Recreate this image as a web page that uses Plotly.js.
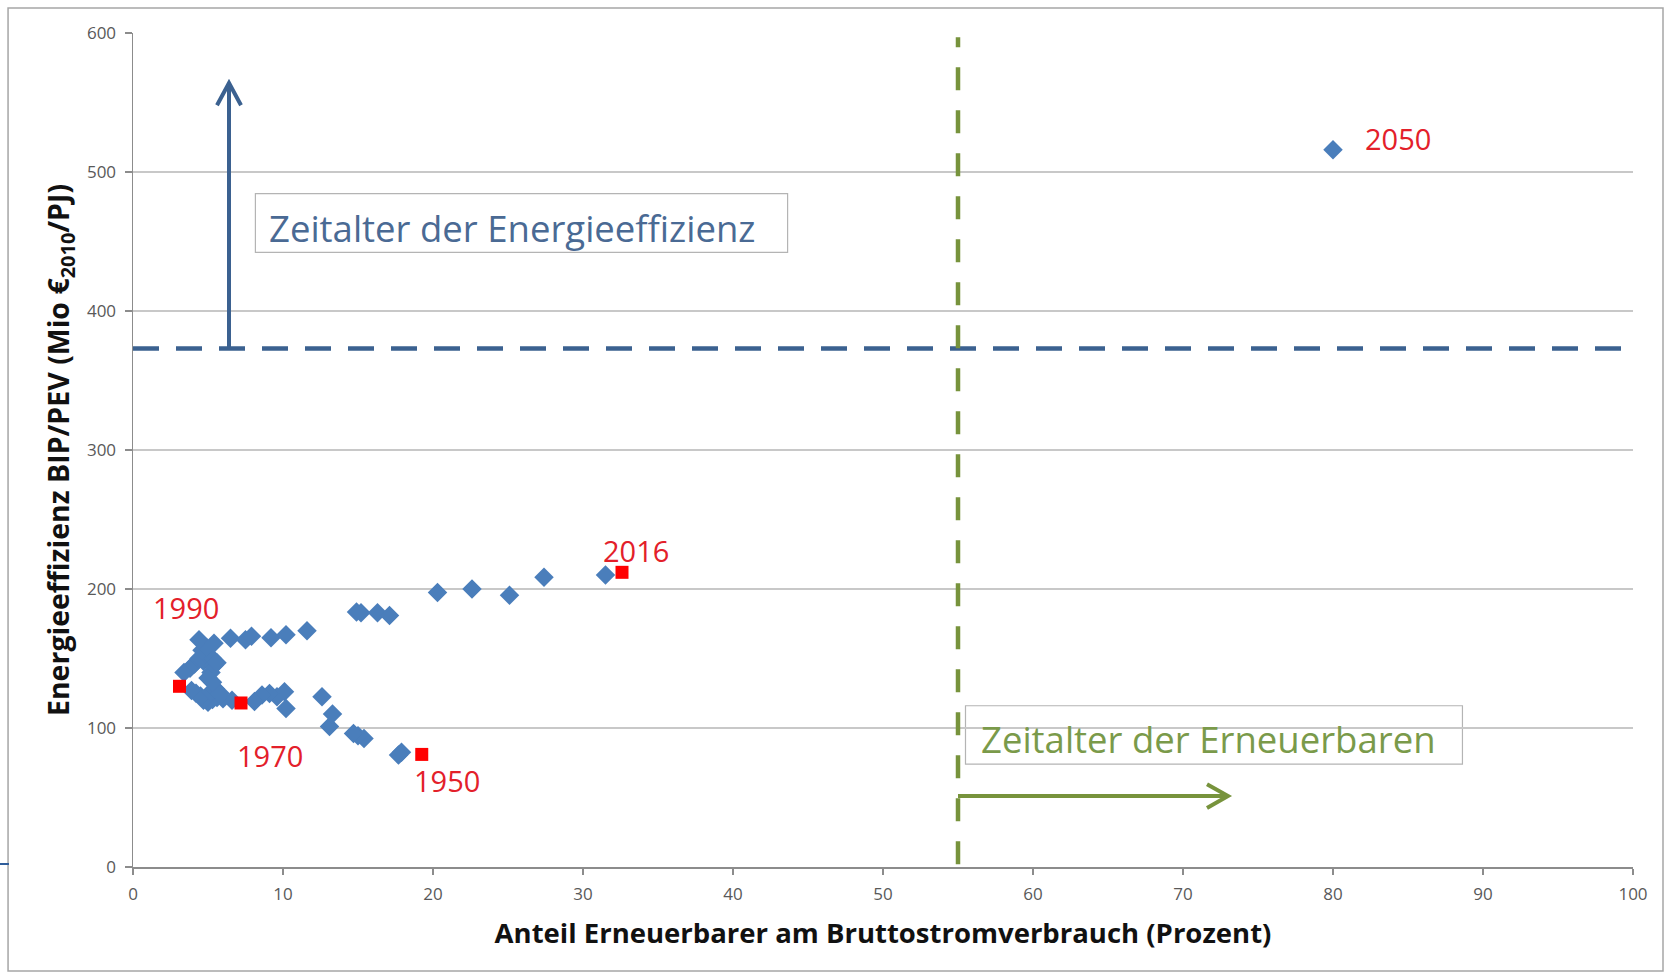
<!DOCTYPE html>
<html>
<head>
<meta charset="utf-8">
<script src="https://cdn.plot.ly/plotly-3.0.1.min.js"></script>
<style>
  html, body { margin: 0; padding: 0; background: #ffffff; }
  #chart { width: 1669px; height: 973px; }
</style>
</head>
<body>
<div id="chart"></div>
<script>
// ---- Data ----
// Blue diamonds: yearly values (share of renewables in gross electricity consumption, %, vs. GDP/PEV)
const yearsX = [
  17.9, 17.7, 15.4, 15.0, 14.7, 13.1, 13.3, 12.6, 10.2, 10.1, 9.6, 9.1, 8.6, 8.1,
  6.6, 6.0, 5.6, 5.3, 5.0, 4.7, 4.5, 4.2, 3.9, 5.2, 5.5, 5.8,
  3.4, 3.8, 4.1, 4.4, 4.7, 5.0, 5.3, 5.4, 5.2, 5.0, 5.3, 5.6, 4.6, 4.9, 4.4, 5.4,
  6.5, 7.5, 7.9, 9.2, 10.2, 11.6, 14.9, 15.2, 16.3, 17.1, 20.3, 22.6, 25.1, 27.4, 31.5,
  80
];
const yearsY = [
  82.5, 80.5, 92.5, 94.5, 96, 101, 110, 122.5, 114, 126, 122.5, 124.8, 123.7, 119,
  120, 121, 122, 120.5, 118.5, 120, 123, 125, 127, 126, 128, 125,
  140, 143, 146, 150, 148, 152, 150, 145, 140, 136, 133, 147, 156, 158, 163.5, 161,
  164.5, 163.5, 166, 165, 167, 170, 183.5, 183, 183, 181, 197.5, 200, 195.5, 208.5, 210,
  516
];
// Red squares: highlighted years
const highlightYears = ["1950", "1970", "1990", "2016"];
const highlightX = [19.25, 7.2, 3.1, 32.6];
const highlightY = [81, 118, 130, 212];

// Year labels (red text)
const labelText = ["2050", "2016", "1990", "1970", "1950"];
const labelX = [84.3, 33.5, 3.5, 9.1, 20.9];
const labelY = [524, 228, 187, 80, 62];

// Threshold lines
const efficiencyThreshold = 373;   // BIP/PEV
const renewableThreshold = 55;     // percent

// Axis ticks
const xTicks = [0, 10, 20, 30, 40, 50, 60, 70, 80, 90, 100];
const yTicks = [0, 100, 200, 300, 400, 500, 600];

// ---- Styles ----
const BLUE = '#4a7ebb';
const DARKBLUE = '#3b6190';
const GREEN = '#77933c';
const RED = '#ff0000';
const FONT = 'Open Sans, Noto Sans, sans-serif';

const traces = [
  {
    type: 'scatter', mode: 'markers',
    x: yearsX, y: yearsY,
    marker: { symbol: 'diamond', size: 15, color: BLUE, line: { width: 0 } },
    hoverinfo: 'x+y', showlegend: false
  },
  {
    type: 'scatter', mode: 'markers',
    x: highlightX, y: highlightY, text: highlightYears,
    marker: { symbol: 'square', size: 13, color: RED, line: { width: 0 } },
    hoverinfo: 'text+x+y', showlegend: false
  }
];

const annotations = labelText.map((t, i) => ({
  x: labelX[i], y: labelY[i], xref: 'x', yref: 'y',
  text: t, showarrow: false,
  font: { family: FONT, size: 29, color: '#e3202a' },
  xanchor: 'center', yanchor: 'middle'
}));

annotations.push({
  x: 8.95, y: 460, xref: 'x', yref: 'y',
  text: 'Zeitalter der Energieeffizienz', showarrow: false,
  font: { family: FONT, size: 36.5, color: '#4a6a94' },
  xanchor: 'left', yanchor: 'middle'
});
annotations.push({
  x: 56.4, y: 92, xref: 'x', yref: 'y',
  text: 'Zeitalter der Erneuerbaren', showarrow: false,
  font: { family: FONT, size: 36.5, color: '#7a9a4a' },
  xanchor: 'left', yanchor: 'middle'
});

const shapes = [
  // outer frame
  { type: 'rect', xref: 'paper', yref: 'paper', x0: -0.0833, x1: 1.02, y0: -0.1247, y1: 1.03,
    line: { color: '#a6a6a6', width: 1.5 }, fillcolor: 'rgba(0,0,0,0)', layer: 'below' },
  // small blue mark at left edge
  { type: 'line', xref: 'paper', yref: 'paper', x0: -0.0887, x1: -0.0827, y0: 0.0036, y1: 0.0036,
    line: { color: '#2e5c9a', width: 2 } },
  // horizontal threshold
  { type: 'line', xref: 'x', yref: 'y', x0: 0, x1: 100, y0: efficiencyThreshold, y1: efficiencyThreshold,
    line: { color: DARKBLUE, width: 4.5, dash: '26px,17px' } },
  // vertical threshold
  { type: 'line', xref: 'x', yref: 'y', x0: renewableThreshold, x1: renewableThreshold, y0: 2, y1: 597,
    line: { color: GREEN, width: 4.5, dash: '23px,20px' } },
  // blue arrow (up)
  { type: 'path', xref: 'x', yref: 'y',
    path: 'M 6.4,373 L 6.4,564 M 5.6,548 L 6.4,564 L 7.2,548',
    line: { color: DARKBLUE, width: 4 } },
  // green arrow (right)
  { type: 'path', xref: 'x', yref: 'y',
    path: 'M 55,51 L 73.0,51 M 71.6,59.6 L 73.0,51 L 71.6,42.4',
    line: { color: GREEN, width: 4 } },
  // text boxes
  { type: 'rect', xref: 'x', yref: 'y', x0: 8.16, x1: 43.64, y0: 442.2, y1: 484.4,
    line: { color: '#b4b4b4', width: 1.2 }, fillcolor: 'rgba(255,255,255,1)', layer: 'below' },
  { type: 'rect', xref: 'x', yref: 'y', x0: 55.5, x1: 88.63, y0: 74.0, y1: 116.0,
    line: { color: '#b4b4b4', width: 1.2 }, fillcolor: 'rgba(255,255,255,1)', layer: 'below' }
];

const layout = {
  width: 1669, height: 973,
  margin: { l: 133, r: 36, t: 33, b: 106 },
  paper_bgcolor: '#ffffff', plot_bgcolor: 'rgba(0,0,0,0)',
  showlegend: false,
  font: { family: FONT, color: '#404040' },
  xaxis: {
    range: [0, 100], tickvals: xTicks, ticktext: xTicks.map(String),
    showgrid: false, zeroline: false,
    showline: true, linecolor: '#8c8c8c', linewidth: 1.5,
    ticks: 'outside', ticklen: 6, tickcolor: '#8c8c8c', tickwidth: 1.2,
    ticklabelstandoff: 5,
    tickfont: { family: FONT, size: 17, color: '#595959' },
    title: { text: 'Anteil Erneuerbarer am Bruttostromverbrauch (Prozent)',
             font: { family: FONT, size: 27.5, color: '#111111', weight: 'bold' }, standoff: 20 }
  },
  yaxis: {
    range: [0, 600], tickvals: yTicks, ticktext: yTicks.map(String),
    showgrid: true, gridcolor: '#c8c8c8', gridwidth: 1.2, zeroline: false,
    showline: true, linecolor: '#8c8c8c', linewidth: 1.5,
    ticks: 'outside', ticklen: 7, tickcolor: '#8c8c8c', tickwidth: 1.2,
    ticklabelstandoff: 5,
    tickfont: { family: FONT, size: 17, color: '#595959' },
    title: { text: 'Energieeffizienz BIP/PEV (Mio €<sub>2010</sub>/PJ)',
             font: { family: FONT, size: 28.5, color: '#111111', weight: 'bold' }, standoff: 9 }
  },
  annotations: annotations,
  shapes: shapes
};

Plotly.newPlot('chart', traces, layout, { displayModeBar: false, staticPlot: true });
</script>
</body>
</html>
